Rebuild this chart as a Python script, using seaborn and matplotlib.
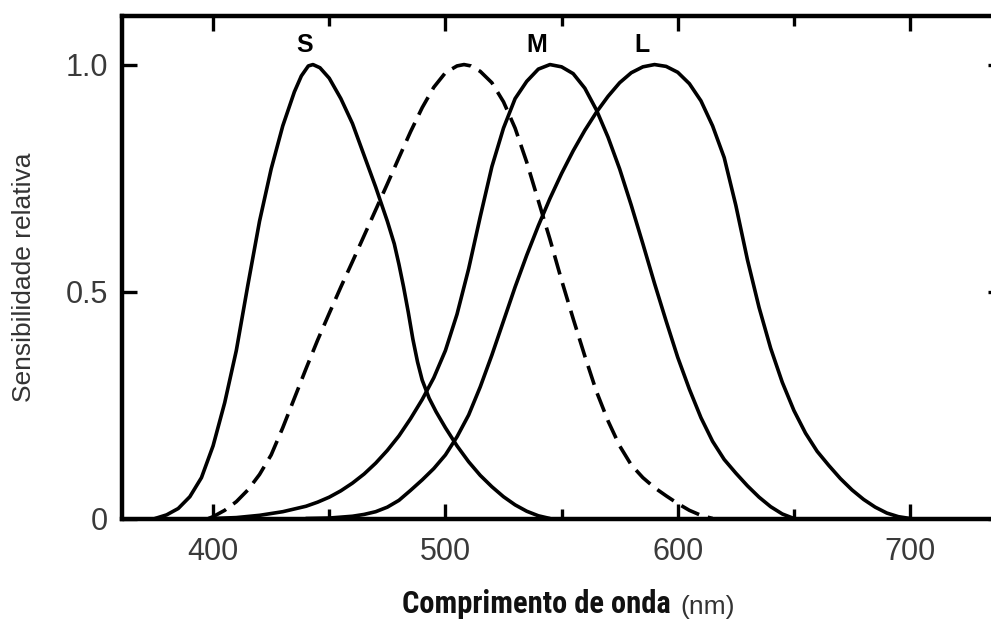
import matplotlib
matplotlib.use("Agg")
import matplotlib.pyplot as plt
from matplotlib import font_manager
from matplotlib.ticker import FixedLocator, FixedFormatter, MultipleLocator
import numpy as np
import pandas as pd
import seaborn as sns

# Relative spectral sensitivity of the photoreceptors (wavelength in nm)
s_wl = [375, 380, 385, 390, 395, 400, 405, 410, 415, 420, 425, 430, 435, 438, 441, 443,
        446, 450, 455, 460, 465, 470, 475, 478, 480, 482, 484, 486, 488, 490, 493, 496,
        500, 505, 510, 515, 520, 525, 530, 535, 540, 545]
s_val = [0.0, 0.008, 0.022, 0.048, 0.09, 0.16, 0.255, 0.37, 0.515, 0.655, 0.77, 0.865, 0.94, 0.975, 0.997, 1.0,
         0.993, 0.97, 0.925, 0.87, 0.80, 0.73, 0.655, 0.605, 0.56, 0.51, 0.455, 0.395, 0.345, 0.305, 0.265, 0.235,
         0.20, 0.16, 0.125, 0.095, 0.07, 0.048, 0.03, 0.016, 0.006, 0.0]

rod_wl = [398, 400, 405, 410, 415, 420, 425, 430, 435, 440, 445, 450, 455, 460, 465, 470,
          475, 480, 485, 490, 495, 500, 505, 508, 511, 515, 520, 525, 530, 535, 540, 545,
          550, 555, 560, 565, 570, 575, 580, 585, 590, 595, 600, 605, 610, 615]
rod_val = [0.0, 0.004, 0.018, 0.037, 0.063, 0.097, 0.14, 0.20, 0.265, 0.33, 0.393, 0.452, 0.51, 0.566, 0.623, 0.68,
           0.737, 0.795, 0.852, 0.905, 0.95, 0.982, 0.997, 1.0, 0.997, 0.985, 0.96, 0.918, 0.86, 0.785, 0.70, 0.615,
           0.525, 0.44, 0.358, 0.28, 0.215, 0.16, 0.118, 0.09, 0.068, 0.05, 0.033, 0.018, 0.007, 0.0]

m_wl = [400, 410, 420, 430, 440, 445, 450, 455, 460, 465, 470, 475, 480, 485, 490, 495,
        500, 505, 510, 515, 520, 525, 530, 535, 540, 545, 550, 555, 560, 565, 570, 575,
        580, 585, 590, 595, 600, 605, 610, 615, 620, 625, 630, 635, 640, 645, 650]
m_val = [0.0, 0.002, 0.007, 0.015, 0.027, 0.036, 0.047, 0.061, 0.078, 0.098, 0.122, 0.15, 0.182, 0.22, 0.262, 0.31,
         0.37, 0.45, 0.55, 0.665, 0.775, 0.86, 0.925, 0.963, 0.99, 1.0, 0.995, 0.98, 0.948, 0.90, 0.84, 0.77,
         0.69, 0.605, 0.518, 0.435, 0.355, 0.285, 0.222, 0.17, 0.13, 0.10, 0.072, 0.047, 0.026, 0.01, 0.0]

l_wl = [440, 450, 460, 465, 470, 475, 480, 485, 490, 495, 500, 505, 510, 515, 520, 525,
        530, 535, 540, 545, 550, 555, 560, 565, 570, 575, 580, 585, 590, 595, 600, 605,
        610, 615, 620, 625, 630, 635, 640, 645, 650, 655, 660, 665, 670, 675, 680, 685,
        690, 695, 700]
l_val = [0.0, 0.001, 0.005, 0.009, 0.015, 0.025, 0.04, 0.062, 0.085, 0.11, 0.14, 0.18, 0.228, 0.29, 0.36, 0.435,
         0.51, 0.58, 0.645, 0.705, 0.76, 0.81, 0.855, 0.895, 0.93, 0.96, 0.982, 0.995, 1.0, 0.996, 0.983, 0.958,
         0.92, 0.865, 0.795, 0.69, 0.57, 0.465, 0.375, 0.30, 0.238, 0.188, 0.148, 0.117, 0.088, 0.063, 0.042, 0.025,
         0.012, 0.004, 0.0]

x_ticks = [400, 500, 600, 700]
y_ticks = [0, 0.5, 1.0]
y_tick_labels = ["0", "0.5", "1.0"]
peak_names = ["S", "M", "L"]
peak_x = [439.6, 539.5, 584.5]

sns.set_theme(style="ticks")

installed = {f.name for f in font_manager.fontManager.ttflist}
base_font = "Liberation Sans" if "Liberation Sans" in installed else "DejaVu Sans"
narrow_font, narrow_size = base_font, 18
for cand, size in [("Roboto Condensed", 22), ("Liberation Sans Narrow", 22),
                   ("DejaVu Sans Condensed", 19), ("Open Sans Condensed", 21)]:
    if cand in installed:
        narrow_font, narrow_size = cand, size
        break
plt.rcParams["font.family"] = [base_font, "DejaVu Sans"]

curves = pd.concat([
    pd.DataFrame({"wl": s_wl, "val": s_val, "curve": "S"}),
    pd.DataFrame({"wl": rod_wl, "val": rod_val, "curve": "rod"}),
    pd.DataFrame({"wl": m_wl, "val": m_val, "curve": "M"}),
    pd.DataFrame({"wl": l_wl, "val": l_val, "curve": "L"}),
], ignore_index=True)

W, H = 991, 621
fig = plt.figure(figsize=(W / 100, H / 100), dpi=100)
ax = fig.add_axes([122 / W, 102.5 / H, 881 / W, (605 - 102.5) / H])

sns.lineplot(
    data=curves, x="wl", y="val", style="curve", units="curve", estimator=None,
    dashes={"S": "", "rod": (5.5, 2.5), "M": "", "L": ""},
    color="black", linewidth=2.6, legend=False, ax=ax,
)
for line in ax.get_lines():
    line.set_solid_joinstyle("round")
    line.set_dash_joinstyle("round")

ax.set_xlim(360.8, 740)
ax.set_ylim(0, 1.107)
ax.set_xlabel("")
ax.set_ylabel("")

ax.xaxis.set_major_locator(FixedLocator(x_ticks))
ax.xaxis.set_minor_locator(MultipleLocator(50))
ax.yaxis.set_major_locator(FixedLocator(y_ticks))
ax.yaxis.set_major_formatter(FixedFormatter(y_tick_labels))

ax.tick_params(which="major", direction="in", length=11, width=2.4, color="black",
               top=True, right=True, labelsize=22, labelcolor="#3a3a3a")
ax.tick_params(axis="x", which="major", pad=13)
ax.tick_params(axis="y", which="major", pad=10)
ax.tick_params(axis="x", which="minor", direction="in", length=7, width=2.4,
               color="black", top=True, bottom=True)

for side, spine in ax.spines.items():
    spine.set_visible(True)
    spine.set_linewidth(3.2)
    spine.set_color("black")

for name, x in zip(peak_names, peak_x):
    ax.text(x, 1.043, name, ha="center", va="center", fontsize=18,
            fontweight="bold", color="black")

fig.text(24 / W, 1 - 277 / H, "Sensibilidade relativa", rotation=90,
         ha="center", va="center", fontsize=19, color="#333333")

xl = fig.text(402 / W, 1 - 613 / H, "Comprimento de onda", ha="left", va="baseline",
              fontsize=narrow_size, fontweight="bold", color="#111111",
              family=[narrow_font, "DejaVu Sans"])
ax.annotate("(nm)", xy=(1, 0), xycoords=xl, xytext=(7, 0), textcoords="offset points",
            ha="left", va="bottom", fontsize=19, color="#333333", annotation_clip=False)

fig.savefig("out.png", dpi=100)
